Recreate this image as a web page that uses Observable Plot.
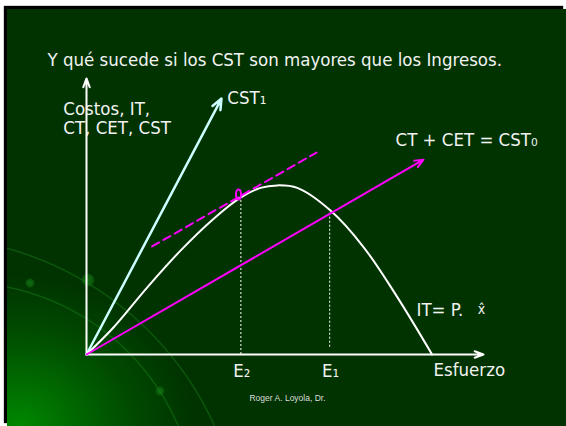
<!DOCTYPE html>
<html>
<head>
<meta charset="utf-8">
<script src="https://cdn.jsdelivr.net/npm/d3@7"></script>
<script src="https://cdn.jsdelivr.net/npm/@observablehq/plot@0.6"></script>
<style>
  html, body { margin: 0; padding: 0; background: #ffffff; }
  #page { position: relative; width: 566px; height: 426px; overflow: hidden; background: #ffffff; }
  #slide {
    position: absolute; left: 7px; top: 9px; width: 559px; height: 417px;
    background:
      radial-gradient(circle 7px at 81px 271px, rgba(20,120,20,0.85) 0, rgba(20,120,20,0.55) 5px, rgba(20,120,20,0) 7px),
      radial-gradient(circle 5px at 23px 274px, rgba(20,120,20,0.85) 0, rgba(20,120,20,0.5) 3.5px, rgba(20,120,20,0) 5px),
      radial-gradient(circle 5px at 153px 382px, rgba(20,120,20,0.85) 0, rgba(20,120,20,0.5) 3.5px, rgba(20,120,20,0) 5px),
      radial-gradient(circle 326px at -87px 551px, rgba(0,0,0,0) 322.5px, rgba(30,140,30,0.45) 323.5px, rgba(0,0,0,0) 325px),
      radial-gradient(circle 240px at -47px 511px, rgba(0,0,0,0) 236.5px, rgba(30,140,30,0.45) 237.5px, rgba(0,0,0,0) 239px),
      radial-gradient(ellipse 175px 150px at 12px 417px, #008800 0%, #006a00 30%, #004a00 65%, rgba(0,51,0,0) 100%),
      #003300;
    box-shadow: -3px -3px 1px #000000;
  }
  #chart { position: absolute; left: 0; top: 0; }
</style>
</head>
<body>
<div id="page"><div id="slide"></div><div id="chart"></div></div>
<script>
// ---- data (chart units: esfuerzo on x, costos / ingresos on y) ----
const effort  = [0, 6.8, 15.2, 23.5, 31.8, 38.5, 43.5, 47.7, 52.7, 61.0, 69.3, 77.7, 86.4];
const revenue = [0, 9.75, 24.0, 37.1, 48.5, 56.0, 59.5, 60.4, 59.5, 51.4, 38.3, 20.5, 0];

const cst0End = [84.25, 69.6];     // CT + CET = CST0 line end
const cst1End = [33.75, 91.4];     // CST1 line end
const tangentX = [16.4, 57.5];     // dashed line parallel to CST0
const tangentY = [38.6, 72.1];

const eNames = ["E\u2082", "E\u2081"];
const eX     = [38.6, 60.8];
const eTop   = [56.0, 50.8];
const eBot   = [0, 2.6];

const axisEnd = [99.25, 98.6];

const titleText = "Y qué sucede si los CST son mayores que los Ingresos.";
const yLabelLines = ["Costos, IT,", "CT, CET, CST"];
const cst1Label = "CST\u2081";
const cst0Label = "CT + CET = CST\u2080";
const itLabel = "IT= P.";
const xHat = "x\u0302";
const xLabel = "Esfuerzo";
const footer = "Roger A. Loyola, Dr.";

// ---- derived tables ----
const curve = effort.map((x, i) => ({x, y: revenue[i]}));
const eLines = eNames.map((n, i) => ({name: n, x: eX[i], y1: eBot[i], y2: eTop[i]}));
const tangent = tangentX.map((x, i) => ({x, y: tangentY[i]}));
const yLabels = yLabelLines.map((t, i) => ({t, y: 85.4 - i * 6.8}));

const font = "'DejaVu Sans Condensed', 'DejaVu Sans', sans-serif";
const txt = "#f2f2f2";
const fs = 18.5;

const ellipse = {
  draw(context, size) {
    const r = Math.sqrt(size / Math.PI);
    const rx = r * 0.5, ry = r, k = 0.5523;
    context.moveTo(rx, 0);
    context.bezierCurveTo(rx, ry * k, rx * k, ry, 0, ry);
    context.bezierCurveTo(-rx * k, ry, -rx, ry * k, -rx, 0);
    context.bezierCurveTo(-rx, -ry * k, -rx * k, -ry, 0, -ry);
    context.bezierCurveTo(rx * k, -ry, rx, -ry * k, rx, 0);
    context.closePath();
  }
};

const chart = Plot.plot({
  width: 566,
  height: 426,
  margin: 0,
  style: "background: transparent; overflow: visible;",
  x: {domain: [0, 100], range: [86, 486], axis: null},
  y: {domain: [0, 100], range: [354, 74], axis: null},
  marks: [
    // axes
    Plot.arrow([{x1: 0, y1: 0, x2: axisEnd[0], y2: 0}, {x1: 0, y1: 0, x2: 0, y2: axisEnd[1]}],
      {x1: "x1", y1: "y1", x2: "x2", y2: "y2", stroke: "#ffffff", strokeWidth: 2, headLength: 7, headAngle: 40}),
    // dotted E lines
    Plot.ruleX(eLines, {x: "x", y1: "y1", y2: "y2", stroke: "#ffffff", strokeWidth: 1, strokeDasharray: "2,2"}),
    // CST1
    Plot.arrow([{x1: 0, y1: 0, x2: cst1End[0], y2: cst1End[1]}],
      {x1: "x1", y1: "y1", x2: "x2", y2: "y2", stroke: "#ccffff", strokeWidth: 2.5, headLength: 7, headAngle: 45}),
    // IT curve
    Plot.line(curve, {x: "x", y: "y", curve: "catmull-rom", stroke: "#ffffff", strokeWidth: 2}),
    // CST0
    Plot.arrow([{x1: 0, y1: 0, x2: cst0End[0], y2: cst0End[1]}],
      {x1: "x1", y1: "y1", x2: "x2", y2: "y2", stroke: "#ff00ff", strokeWidth: 2, headLength: 7, headAngle: 45}),
    // tangent dashed
    Plot.line(tangent, {x: "x", y: "y", stroke: "#ff00ff", strokeWidth: 2, strokeDasharray: "8,5"}),
    // tangency marker
    Plot.dot([{x: 38.0, y: 57.1}], {x: "x", y: "y", r: 5, symbol: ellipse, stroke: "#ff00ff", strokeWidth: 2, fill: "none"}),
    // texts
    Plot.text([titleText], {x: -9.75, y: 103.2, text: d => d, textAnchor: "start", lineAnchor: "bottom", fontSize: fs, fontFamily: font, fill: txt}),
    Plot.text(yLabels, {x: -5.8, y: "y", text: "t", textAnchor: "start", lineAnchor: "bottom", fontSize: fs, fontFamily: font, fill: txt}),
    Plot.text([cst1Label], {x: 35.2, y: 89.6, text: d => d, textAnchor: "start", lineAnchor: "bottom", fontSize: fs, fontFamily: font, fill: txt}),
    Plot.text([cst0Label], {x: 77.25, y: 74.6, text: d => d, textAnchor: "start", lineAnchor: "bottom", fontSize: fs, fontFamily: font, fill: txt}),
    Plot.text([itLabel], {x: 82.5, y: 13.9, text: d => d, textAnchor: "start", lineAnchor: "bottom", fontSize: fs, fontFamily: font, fill: txt}),
    Plot.text([xHat], {x: 98.75, y: 14.6, text: d => d, textAnchor: "middle", lineAnchor: "bottom", fontSize: 14, fontFamily: font, fill: txt}),
    Plot.text(eLines, {x: d => d.x - 1.9, y: -8.0, text: "name", textAnchor: "start", lineAnchor: "bottom", fontSize: fs, fontFamily: font, fill: txt}),
    Plot.text([xLabel], {x: 86.75, y: -7.5, text: d => d, textAnchor: "start", lineAnchor: "bottom", fontSize: fs, fontFamily: font, fill: txt}),
    Plot.text([footer], {x: 50.25, y: -16.7, text: d => d, textAnchor: "middle", lineAnchor: "bottom", fontSize: 8.5, fontFamily: "'Liberation Sans', Arial, sans-serif", fill: "#dddddd"})
  ]
});
document.getElementById("chart").appendChild(chart);
</script>
</body>
</html>
